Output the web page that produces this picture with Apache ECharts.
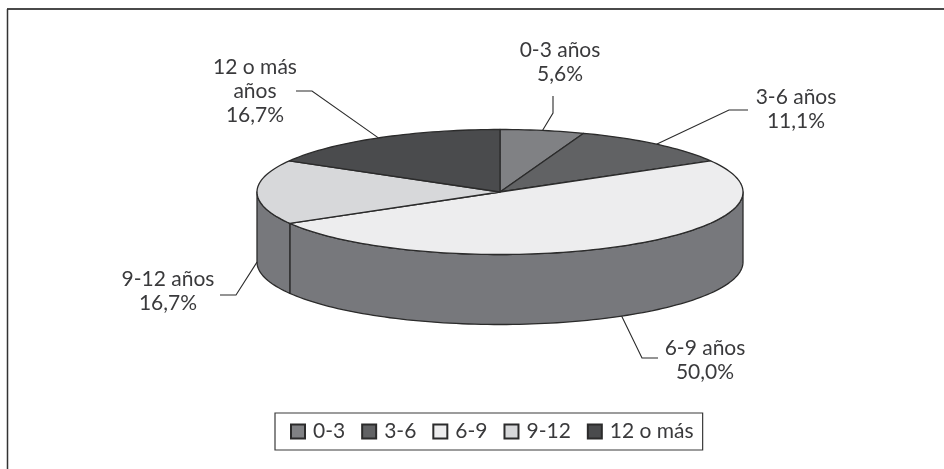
<!DOCTYPE html>
<html>
<head>
<meta charset="utf-8">
<style>html,body{margin:0;padding:0;background:#fff}#chart{width:944px;height:469px}</style>
<script src="https://cdn.jsdelivr.net/npm/echarts@6/dist/echarts.min.js"></script>
</head>
<body>
<div id="chart"></div>
<script>
// Distribución por tramos de edad, en porcentaje
const categories = ['0-3', '3-6', '6-9', '9-12', '12 o más'];
const labelNames = ['0-3 años', '3-6 años', '6-9 años', '9-12 años', '12 o más\naños'];
const shares = [5.6, 11.1, 50.0, 16.7, 16.7];

const topColors = ['#808184', '#616264', '#ededee', '#d7d8da', '#4a4b4d'];
const sideColor = '#77787c';
const ink = '#2b2b2b';
const textColor = '#3a3a3c';
const fontFamily = 'Lato, "Noto Sans", sans-serif';
const fontSize = 21;

// Disc geometry: centre of the top face, radii, extrusion depth
const disc = { cx: 500, cy: 192, rx: 243, ry: 62.5, depth: 70 };

// Callout placement for each slice: elbow, end of the leader, text centre
const callouts = [
  { elbow: [553, 113], end: [553, 96], text: [560, 62] },
  { elbow: [729, 110], end: [748, 110], text: [796, 109] },
  { elbow: [642, 358], end: [658, 358], text: [705, 360] },
  { elbow: [236, 295], end: [220, 295], text: [168, 291] },
  { elbow: [312, 91], end: [296, 91], text: [255, 91] }
];

const total = shares.reduce((a, b) => a + b, 0);
const RAD = Math.PI / 180;

// Angles run clockwise from twelve o'clock
function rimPoint(deg, drop) {
  return [
    disc.cx + disc.rx * Math.sin(deg * RAD),
    disc.cy - disc.ry * Math.cos(deg * RAD) + (drop || 0)
  ];
}
function arcPoints(from, to, drop) {
  const pts = [];
  const n = Math.max(2, Math.ceil(Math.abs(to - from) / 1.5));
  for (let i = 0; i <= n; i++) pts.push(rimPoint(from + (to - from) * i / n, drop));
  return pts;
}

let running = 0;
const spans = shares.map(v => {
  const start = running / total * 360;
  running += v;
  return [start, running / total * 360];
});

const outline = { stroke: ink, lineWidth: 1.3, lineJoin: 'round' };

function sideElements() {
  const out = [];
  spans.forEach(([a, b]) => {
    const from = Math.max(a, 90), to = Math.min(b, 270);
    if (to <= from) return;
    out.push({
      type: 'polygon',
      shape: { points: arcPoints(from, to, 0).concat(arcPoints(to, from, disc.depth)) },
      style: Object.assign({ fill: sideColor }, outline)
    });
  });
  return out;
}

const series = categories.map((name, i) => ({
  type: 'custom',
  name,
  coordinateSystem: 'none',
  color: topColors[i],
  itemStyle: { color: topColors[i], borderColor: ink, borderWidth: 1 },
  data: [shares[i]],
  z: 2 + i,
  renderItem: () => {
    const [a, b] = spans[i];
    const mid = (a + b) / 2;
    const call = callouts[i];
    const anchor = rimPoint(mid, mid > 90 && mid <= 270 ? disc.depth : 0);
    const value = shares[i].toFixed(1).replace('.', ',') + '%';
    return {
      type: 'group',
      children: [
        {
          type: 'polygon',
          shape: { points: [[disc.cx, disc.cy]].concat(arcPoints(a, b, 0)) },
          style: Object.assign({ fill: topColors[i] }, outline)
        },
        {
          type: 'polyline',
          shape: { points: [anchor, call.elbow, call.end] },
          style: { stroke: ink, lineWidth: 1.1, fill: null }
        },
        {
          type: 'text',
          x: call.text[0],
          y: call.text[1],
          style: {
            text: labelNames[i] + '\n' + value,
            fill: textColor,
            font: '400 ' + fontSize + 'px ' + fontFamily,
            lineHeight: 24,
            align: 'center',
            verticalAlign: 'middle'
          }
        }
      ]
    };
  }
}));

// Rim of the disc sits underneath every top face
series.unshift({
  type: 'custom',
  name: 'lateral',
  coordinateSystem: 'none',
  data: [total],
  z: 1,
  renderItem: () => ({ type: 'group', children: sideElements() })
});

const chart = echarts.init(document.getElementById('chart'), null, { renderer: 'canvas' });
chart.setOption({
  animation: false,
  backgroundColor: '#ffffff',
  // Only the top and left rules of the panel are drawn
  graphic: [
    { type: 'line', z: 0, shape: { x1: 7, y1: 9, x2: 944, y2: 9 }, style: { stroke: '#4a4a4a', lineWidth: 2 } },
    { type: 'line', z: 0, shape: { x1: 7.5, y1: 9, x2: 7.5, y2: 469 }, style: { stroke: '#333333', lineWidth: 1.5 } }
  ],
  legend: {
    data: categories,
    left: 275,
    top: 413,
    padding: [8, 9, 8, 15],
    icon: 'rect',
    itemWidth: 14,
    itemHeight: 14,
    itemGap: 16,
    borderColor: '#3a3a3a',
    borderWidth: 1.2,
    selectedMode: false,
    textStyle: { color: textColor, fontFamily: fontFamily, fontSize: fontSize, padding: [0, 0, 0, 3], lineHeight: 16 }
  },
  series
});
</script>
</body>
</html>
